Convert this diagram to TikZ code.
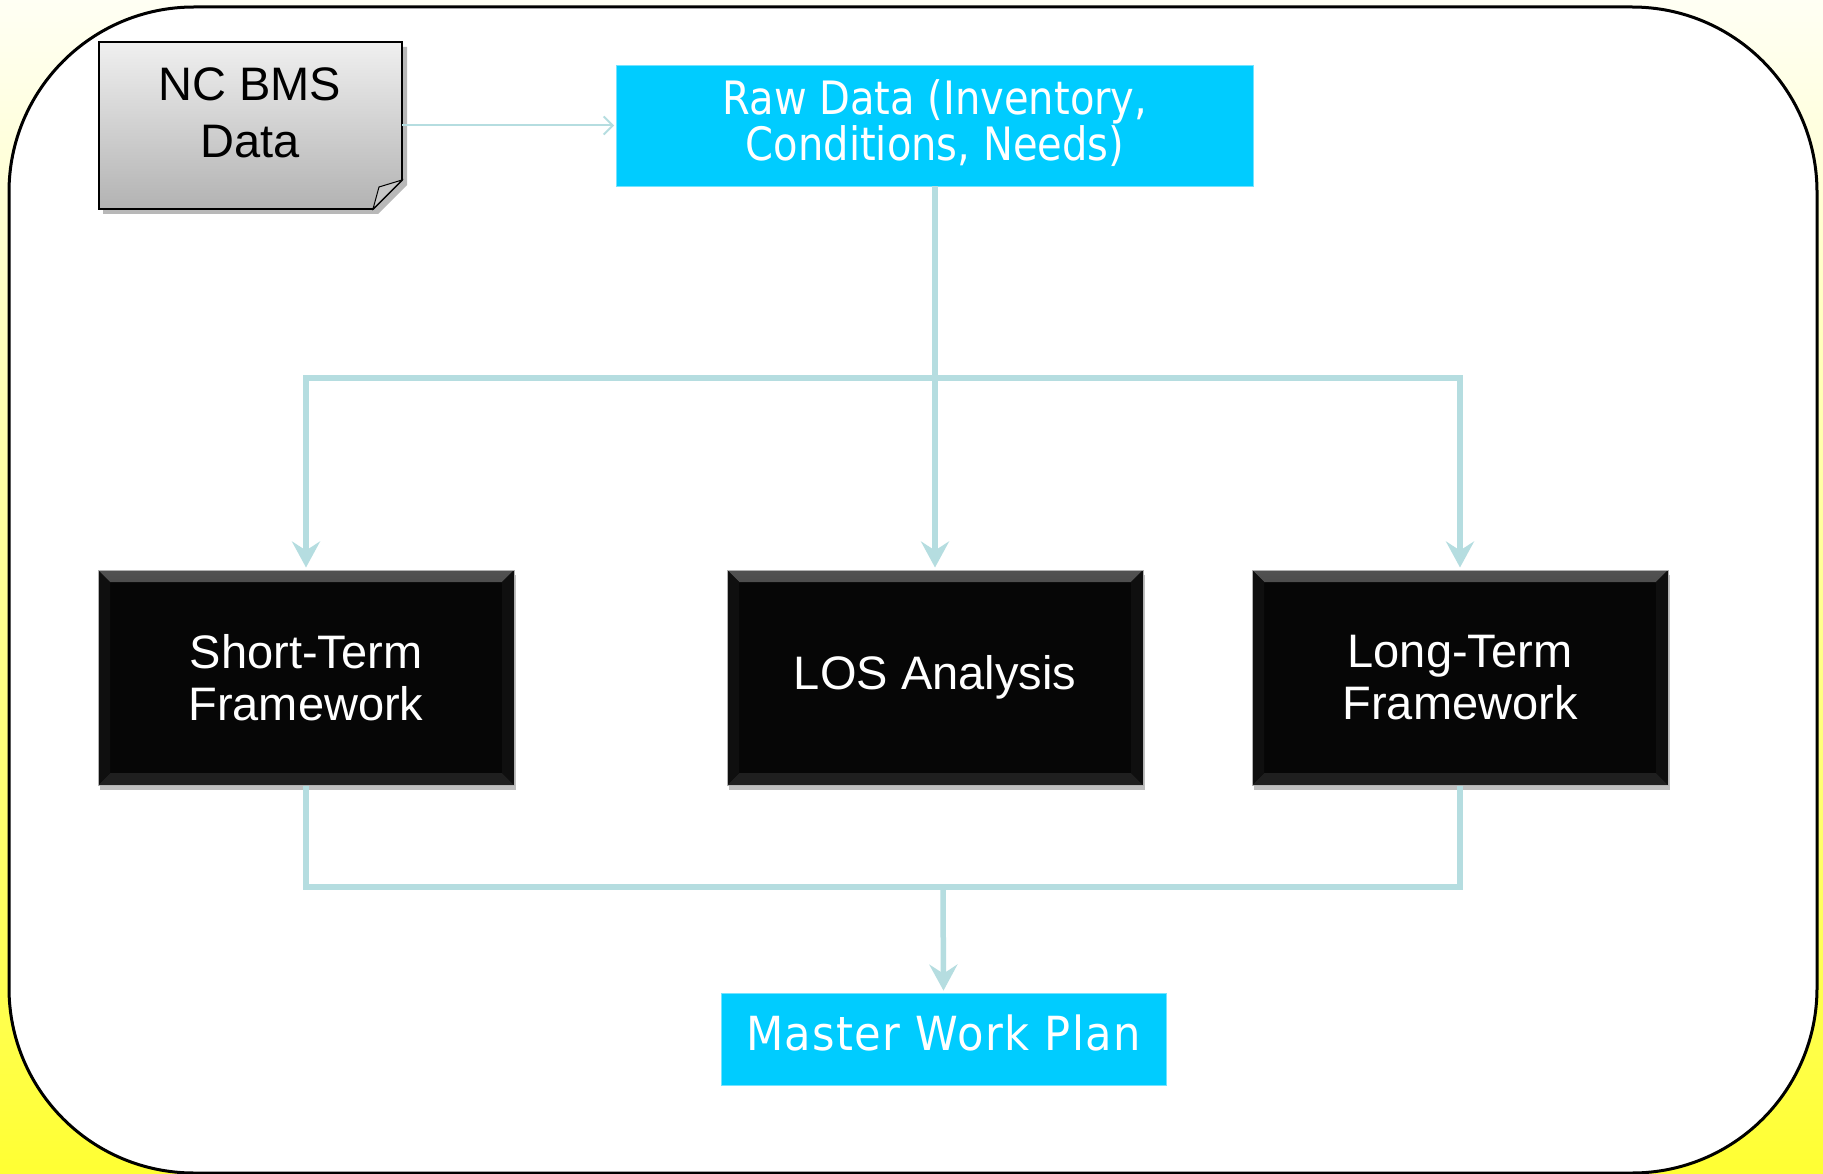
\documentclass[tikz,border=0pt]{standalone}
\usepackage{fontspec}
\setmainfont{Liberation Sans}
\newfontfamily\rawfont[FakeStretch=0.87]{DejaVu Sans}
\newfontfamily\mwpfont[FakeStretch=0.92,LetterSpace=3]{DejaVu Sans}
\usetikzlibrary{arrows.meta,shadows,calc}
\definecolor{cyanbox}{HTML}{00CCFF}
\definecolor{linkc}{HTML}{B5DDE0}
\definecolor{boxblack}{HTML}{060606}
\definecolor{bgtop}{HTML}{FFFFF4}
\definecolor{bgbot}{HTML}{FFFF33}
\newcommand\bevelpaint{%
  \fill[top color=black!68, bottom color=boxblack]
    (path picture bounding box.north west) -- (path picture bounding box.north east)
    -- ([shift={(-12pt,-12pt)}]path picture bounding box.north east)
    -- ([shift={(12pt,-12pt)}]path picture bounding box.north west) -- cycle;
  \fill[black!88]
    (path picture bounding box.south west) -- (path picture bounding box.south east)
    -- ([shift={(-12pt,12pt)}]path picture bounding box.south east)
    -- ([shift={(12pt,12pt)}]path picture bounding box.south west) -- cycle;
  \fill[black!94]
    (path picture bounding box.north west) -- ([shift={(12pt,-12pt)}]path picture bounding box.north west)
    -- ([shift={(12pt,12pt)}]path picture bounding box.south west)
    -- (path picture bounding box.south west) -- cycle;
  \fill[black!94]
    (path picture bounding box.north east) -- ([shift={(-12pt,-12pt)}]path picture bounding box.north east)
    -- ([shift={(-12pt,12pt)}]path picture bounding box.south east)
    -- (path picture bounding box.south east) -- cycle;
}
\begin{document}
\begin{tikzpicture}[x=1pt,y=-1pt,
  cyanboxst/.style={fill=cyanbox, draw=cyanbox!55!white, line width=0.8pt, text=white, inner sep=0pt},
  blackbox/.style={fill=boxblack, draw=black!30, line width=1pt,
    minimum width=416pt, minimum height=215pt, text=white,
    font=\fontsize{47}{52}\selectfont, align=center, inner sep=0pt,
    drop shadow={shadow xshift=2pt, shadow yshift=-5pt, opacity=0.25, fill=black},
    path picture={\bevelpaint}},
  link/.style={draw=linkc, line width=5.5pt},
  linkarrow/.style={link, shorten >=2pt, -{Stealth[length=26pt,width=28pt,inset=9pt]}},
]
\useasboundingbox (0,0) rectangle (1823,1174);
\shade[top color=bgtop, bottom color=bgbot] (0,0) rectangle (1823,1174);
\draw[line width=3pt, fill=white, rounded corners=185pt] (9,7) rectangle (1817,1173);

% NC BMS data document
\node[minimum width=303pt, minimum height=167pt, inner sep=0pt] (nc) at (250.5,125.5) {};
\fill[black, opacity=0.28] (103,47) -- (407,47) -- (407,185) -- (378,214) -- (103,214) -- cycle;
\shade[top color=black!6, bottom color=black!30] (99,42) -- (402,42) -- (402,180) -- (373,209) -- (99,209) -- cycle;
\draw[line width=1.8pt] (99,42) -- (402,42) -- (402,180) -- (373,209) -- (99,209) -- cycle;
\filldraw[fill=black!22, draw=black, line width=1pt] (402,180) -- (379,187) -- (373,209) -- cycle;
\node[font=\fontsize{47}{57}\selectfont, align=center, inner sep=0pt] (nctext) at (250,113) {NC BMS\\Data};

\node[cyanboxst, minimum width=637pt, minimum height=121pt] (raw) at (935,125.5) {};
\node[font=\rawfont\fontsize{46}{46}\selectfont, align=center, text=white, inner sep=0pt]
      (rawtext) at (935,123) {Raw Data (Inventory,\\Conditions, Needs)};

\node[blackbox] (st) at (306,677.5) {Short-Term\\Framework};
\node[blackbox] (los) at (935,677.5) {LOS Analysis};
\node[blackbox] (lt) at (1460,677.5) {Long-Term\\Framework};

\node[cyanboxst, minimum width=445pt, minimum height=92pt] (mwp) at (943.5,1039) {};
\node[font=\mwpfont\fontsize{47}{50}\selectfont, text=white, inner sep=0pt] (mwptext) at (943.5,1033) {Master Work Plan};

% connectors
\draw[draw=linkc, line width=2pt, shorten >=2pt, -{Straight Barb[length=9pt,width=18pt]}] (nc.east) -- (raw.west);
\coordinate (topbus) at (935,378);
\draw[link] (raw.south) -- (topbus);
\draw[linkarrow] (topbus) -- (los.north);
\draw[linkarrow] (topbus) -| (st.north);
\draw[linkarrow] (topbus) -| (lt.north);
\coordinate (botbus) at (943,887);
\draw[link] (st.south) |- (botbus) -| (lt.south);
\draw[linkarrow] (botbus) -- (mwp.north);
\end{tikzpicture}
\end{document}
